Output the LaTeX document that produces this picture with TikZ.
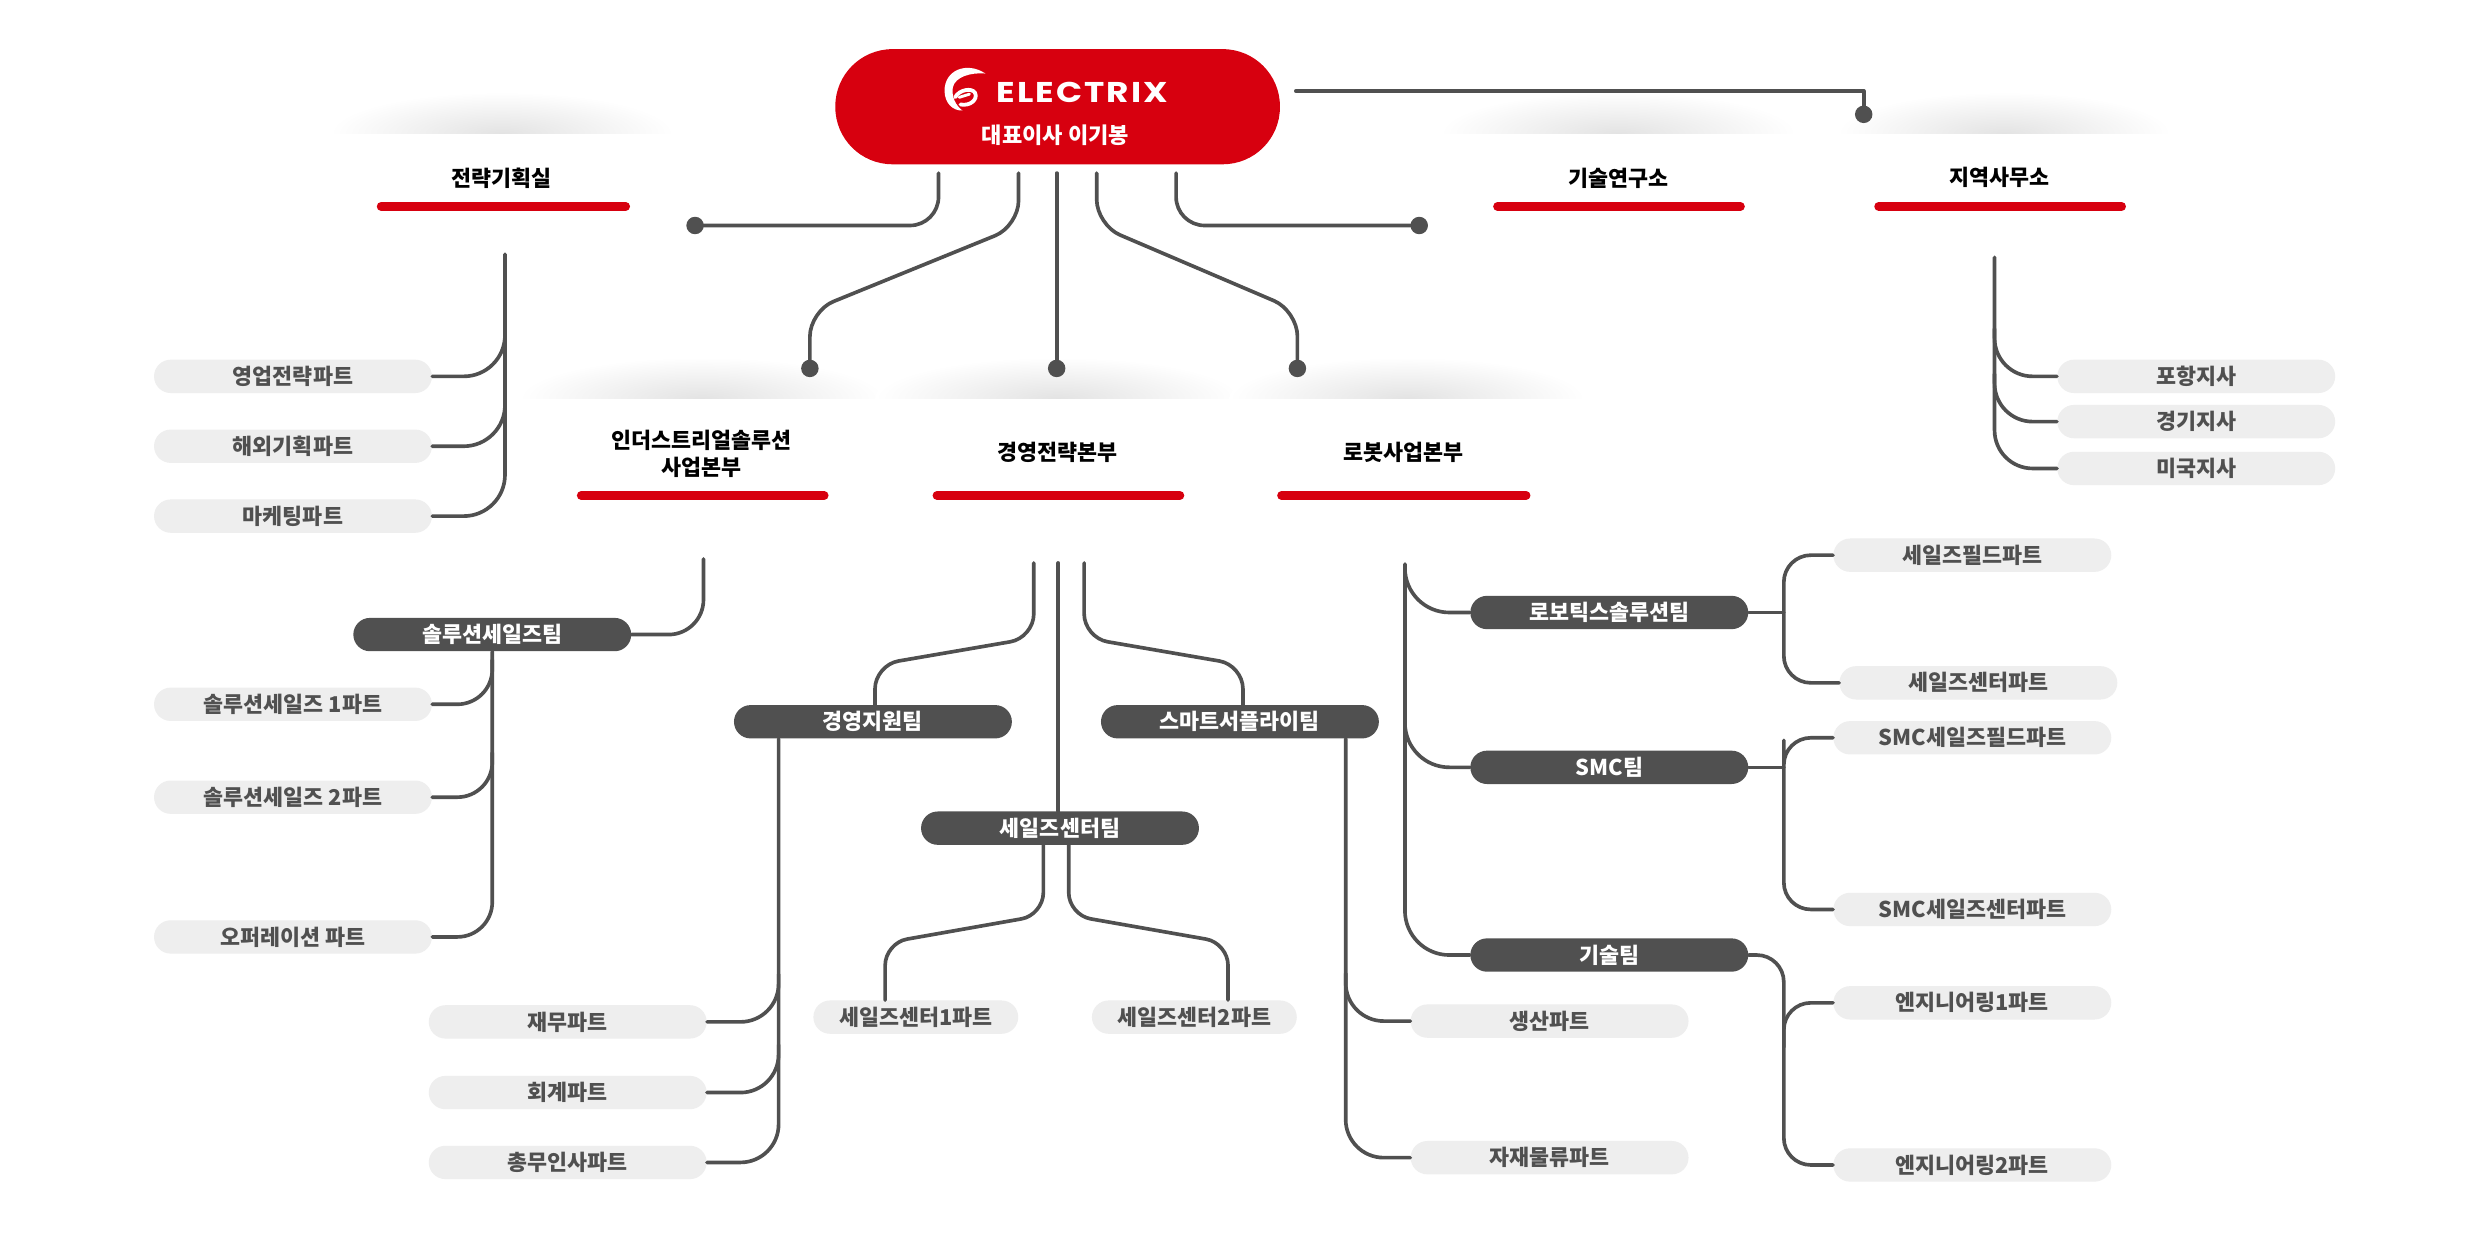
\documentclass[tikz,border=0pt]{standalone}
\usepackage{fontspec}
\setmainfont{Noto Sans CJK KR}
\newfontfamily\logofont{Poppins}[LetterSpace=6]
\usetikzlibrary{calc}
\definecolor{cred}{HTML}{D7000F}
\definecolor{cdark}{HTML}{505050}
\definecolor{clight}{HTML}{EEEEEE}
\definecolor{ctext}{HTML}{505050}
\newcommand\hshadow[3]{%
  \begin{scope}
    \clip (#1-#3,#2-30) rectangle (#1+#3,#2);
    \shade[inner color=black!11, outer color=white] (#1,#2) ellipse ({#3} and 26);
  \end{scope}}
\tikzset{
  lpill/.style={rectangle, rounded corners=10.5pt, fill=clight, text=ctext,
    minimum width=175pt, minimum height=21pt, inner sep=0pt,
    font=\fontsize{13.7}{16}\selectfont\bfseries},
  dpill/.style={lpill, fill=cdark, text=white},
  hdr/.style={font=\fontsize{13.7}{17}\selectfont\bfseries, text=black, align=center, inner sep=0pt},
  conn/.style={draw=cdark, line width=2.3pt, line cap=round, line join=round},
  redbar/.style={draw=cred, line width=5.5pt, line cap=round},
  enddot/.style={circle, fill=cdark, minimum size=11pt, inner sep=0pt},
}
\begin{document}
\begin{tikzpicture}[x=1pt,y=-1pt]
\useasboundingbox (0,0) rectangle (1568,778.34);
\fill[white] (0,0) rectangle (1568,778.34);

% header shadows
\hshadow{316}{84}{108}
\hshadow{1019}{84}{112}
\hshadow{1262}{84}{105}
\hshadow{442}{251}{115}
\hshadow{666}{251}{115}
\hshadow{886}{251}{112}

% CEO
\node[rectangle, rounded corners=36pt, fill=cred, minimum width=280pt, minimum height=72.5pt, inner sep=0pt] (ceo) at (666,67.2) {};
\node[inner sep=0pt, text=white, font=\logofont\bfseries\fontsize{18}{20}\selectfont] (brand) at (681.5,58.2) {\scalebox{1.2}[1]{ELECTRIX}};
\node[inner sep=0pt, text=white, font=\fontsize{13.9}{16}\selectfont\bfseries] (ceoname) at (664.7,85.2) {대표이사 이기봉};
% logo icon
\fill[white] (620.5,46.3) .. controls (609,38.5) and (594.5,44) .. (594.8,57.5) .. controls (595,65) and (600,69.8) .. (606,69.6) .. controls (601.5,66) and (599.2,61) .. (600,55) .. controls (601.5,48.5) and (611,45.5) .. (620.5,46.3) -- cycle;
\draw[white, line width=2.4pt, line cap=round] (601.5,61.2) .. controls (604,56.5) and (612,55) .. (614,58.5) .. controls (616,62.5) and (611,67) .. (604.8,65.8);
\draw[white, line width=1.8pt, line cap=round] (604,61.3) -- (610.5,59.3);

% headers
\node[hdr] (h1) at (316,112) {전략기획실};
\node[hdr] (h2) at (1019,112) {기술연구소};
\node[hdr] (h3) at (1259,112) {지역사무소};
\node[hdr] (h4) at (442,285.5) {인더스트리얼솔루션\\사업본부};
\node[hdr] (h5) at (666,285) {경영전략본부};
\node[hdr] (h6) at (884,285) {로봇사업본부};
\draw[redbar] (240,130) -- (394,130);
\draw[redbar] (943,130) -- (1096,130);
\draw[redbar] (1183,130) -- (1336,130);
\draw[redbar] (366,312) -- (519,312);
\draw[redbar] (590,312) -- (743,312);
\draw[redbar] (807,312) -- (961,312);

% CEO connectors
\coordinate (c1) at (591,109);
\coordinate (c2) at (641.4,109);
\coordinate (c3) at (665.4,109);
\coordinate (c4) at (690.6,109);
\coordinate (c5) at (740.6,109);
\coordinate (c6) at (816,57.3);
\node[enddot] (d1) at (437.7,142) {};
\node[enddot] (d2) at (510,232) {};
\node[enddot] (d3) at (665.4,232) {};
\node[enddot] (d4) at (817,232) {};
\node[enddot] (d5) at (893.7,142) {};
\node[enddot] (d6) at (1173.6,72) {};
\draw[conn, rounded corners=18pt] (c1) |- (d1.center);
\draw[conn, rounded corners=16pt] (c2) -- (641.4,142.4) -- (510,195.9) -- (d2.center);
\draw[conn] (c3) -- (d3.center);
\draw[conn, rounded corners=16pt] (c4) -- (690.6,141.7) -- (817,195.7) -- (d4.center);
\draw[conn, rounded corners=18pt] (c5) |- (d5.center);
\draw[conn] (c6) -| (d6.center);

% 전략기획실
\node[lpill] (a1) at (184.5,237) {영업전략파트};
\node[lpill] (a2) at (184.5,281) {해외기획파트};
\node[lpill] (a3) at (184.5,325) {마케팅파트};
\coordinate (s1) at (318,160);
\draw[conn, rounded corners=26pt] (s1) |- (a3.east);
\draw[conn, rounded corners=26pt] ($(s1 |- a1.east)+(0,-32)$) |- (a1.east);
\draw[conn, rounded corners=26pt] ($(s1 |- a2.east)+(0,-32)$) |- (a2.east);

% 지역사무소
\node[lpill] (r1) at (1383,237) {포항지사};
\node[lpill] (r2) at (1383,265.5) {경기지사};
\node[lpill] (r3) at (1383,295) {미국지사};
\coordinate (s3) at (1256,162);
\draw[conn, rounded corners=24pt] (s3) |- (r3.west);
\draw[conn, rounded corners=24pt] ($(s3 |- r1.west)+(0,-30)$) |- (r1.west);
\draw[conn, rounded corners=24pt] ($(s3 |- r2.west)+(0,-30)$) |- (r2.west);

% 인더스트리얼솔루션 사업본부
\node[dpill] (t1) at (310,399.6) {솔루션세일즈팀};
\node[lpill] (b1) at (184.5,443.5) {솔루션세일즈 1파트};
\node[lpill] (b2) at (184.5,502) {솔루션세일즈 2파트};
\node[lpill] (b3) at (184.5,590) {오퍼레이션 파트};
\coordinate (s4) at (443,352);
\draw[conn, rounded corners=22pt] (s4) |- (t1.east);
\draw[conn, rounded corners=22pt] (t1.south) |- (b3.east);
\draw[conn, rounded corners=22pt] ($(t1.south |- b1.east)+(0,-28)$) |- (b1.east);
\draw[conn, rounded corners=22pt] ($(t1.south |- b2.east)+(0,-28)$) |- (b2.east);

% 경영전략본부
\node[dpill] (t2) at (549.7,454.5) {경영지원팀};
\node[dpill] (t3) at (667.5,521.5) {세일즈센터팀};
\node[dpill] (t4) at (780.8,454.5) {스마트서플라이팀};
\coordinate (s5a) at (651,354.5);
\coordinate (s5b) at (666.4,354.5);
\coordinate (s5c) at (682.7,354.5);
\draw[conn, rounded corners=15pt] (s5a) -- (651,401.6) -- (551,418.8) -- (551,444);
\draw[conn] (s5b) -- (t3.north -| s5b);
\draw[conn, rounded corners=15pt] (s5c) -- (682.7,401.6) -- (782.7,418.8) -- (782.7,444);

\node[lpill] (f1) at (357.5,643.5) {재무파트};
\node[lpill] (f2) at (357.5,688) {회계파트};
\node[lpill] (f3) at (357.5,732) {총무인사파트};
\coordinate (s7) at ($(t2.south west)+(28.3,0)$);
\draw[conn, rounded corners=24pt] (s7) |- (f3.east);
\draw[conn, rounded corners=24pt] ($(s7 |- f1.east)+(0,-30)$) |- (f1.east);
\draw[conn, rounded corners=24pt] ($(s7 |- f2.east)+(0,-30)$) |- (f2.east);

\node[lpill, minimum width=129pt] (g1) at (576.7,640.5) {세일즈센터1파트};
\node[lpill, minimum width=129pt] (g2) at (752.1,640.5) {세일즈센터2파트};
\draw[conn, rounded corners=14pt] ($(t3.south)+(-10.5,0)$) -- (657,576.2) -- (557.4,593.8) -- (g1.north -| 557.4,0);
\draw[conn, rounded corners=14pt] ($(t3.south)+(5.5,0)$) -- (673,576.2) -- (773.3,593.8) -- (g2.north -| 773.3,0);

\node[lpill] (m1) at (975.8,643) {생산파트};
\node[lpill] (m2) at (975.8,729) {자재물류파트};
\coordinate (s8) at ($(t4.south east)+(-21.1,0)$);
\draw[conn, rounded corners=24pt] (s8) |- (m2.west);
\draw[conn, rounded corners=24pt] ($(s8 |- m1.west)+(0,-30)$) |- (m1.west);

% 로봇사업본부
\node[dpill] (u1) at (1013.4,385.7) {로보틱스솔루션팀};
\node[dpill] (u2) at (1013.4,483.2) {SMC팀};
\node[dpill] (u3) at (1013.4,601.4) {기술팀};
\coordinate (s6) at (884.7,355.3);
\draw[conn, rounded corners=28pt] (s6) |- (u3.west);
\draw[conn, rounded corners=28pt] (s6) |- (u1.west);
\draw[conn, rounded corners=28pt] ($(s6 |- u2.west)+(0,-36)$) |- (u2.west);

\coordinate (bx) at (1123.3,0);
\node[lpill] (v1) at (1242,349.6) {세일즈필드파트};
\node[lpill] (v2) at (1245.8,430) {세일즈센터파트};
\node[lpill] (v3) at (1242,464.6) {SMC세일즈필드파트};
\node[lpill] (v4) at (1242,572.7) {SMC세일즈센터파트};
\node[lpill] (v5) at (1242,631.5) {엔지니어링1파트};
\node[lpill] (v6) at (1242,733.6) {엔지니어링2파트};
\draw[conn] (u1.east) -- (u1.east -| bx);
\draw[conn, rounded corners=17pt] (v1.west) -| (bx |- u1.east) |- (v2.west);
\draw[conn] (u2.east) -- (u2.east -| bx);
\draw[conn, rounded corners=17pt] (v3.west) -| (bx |- u2.east) |- (v4.west);
\draw[conn, rounded corners=17pt] (u3.east) -| (bx |- v6.west) -- (v6.west);
\draw[conn, rounded corners=17pt] ($(bx |- v5.west)+(0,28)$) |- (v5.west);
\end{tikzpicture}
\end{document}
